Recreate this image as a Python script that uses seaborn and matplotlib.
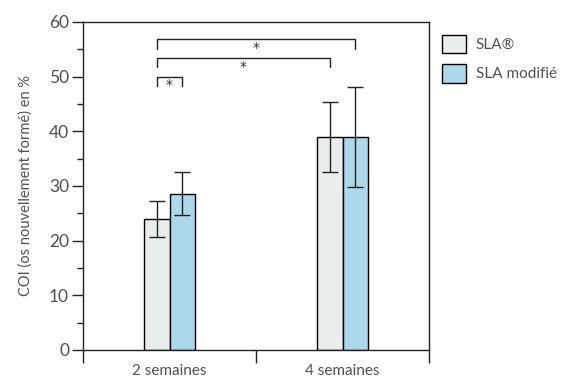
import numpy as np
import pandas as pd
import matplotlib
matplotlib.use("Agg")
import matplotlib.pyplot as plt
import seaborn as sns
from matplotlib.ticker import MultipleLocator, FixedLocator

periods = ["2 semaines", "4 semaines"]
groups = ["SLA®", "SLA modifié"]
sla_mean = [24.0, 39.0]
sla_sd = [3.3, 6.4]
mod_mean = [28.6, 39.0]
mod_sd = [3.9, 9.1]
colors = ["#e8eeee", "#a3dbf4"]

# significance brackets: (period idx a, group a, period idx b, group b, y)
brackets = [(0, 0, 1, 1, 56.8), (0, 0, 1, 0, 53.4), (0, 0, 0, 1, 50.0)]

df = pd.DataFrame({
    "period": periods * 2,
    "group": [groups[0]] * 2 + [groups[1]] * 2,
    "coi": sla_mean + mod_mean,
})

sns.set_style("white")
plt.rcParams["font.family"] = ["Lato", "DejaVu Sans"]
text_color = "#505050"

fig = plt.figure(figsize=(5.63, 3.78), dpi=100)
ax = fig.add_axes([83 / 563, 28 / 378, 346 / 563, 328 / 378])

sns.barplot(data=df, x="period", y="coi", hue="group", order=periods,
            hue_order=groups, palette=colors, width=0.3, errorbar=None,
            edgecolor="black", linewidth=1.0, ax=ax)

sds = [sla_sd, mod_sd]
means = [sla_mean, mod_mean]
bar_conts = list(ax.containers)
for gi, cont in enumerate(bar_conts):
    xs = [p.get_x() + p.get_width() / 2 for p in cont.patches]
    ax.errorbar(xs, means[gi], yerr=sds[gi], fmt="none", ecolor="#222222",
                elinewidth=1.0, capsize=5.5, capthick=1.0, zorder=5)

offs = [-0.075, 0.075]
leg = 1.7
for pa, ga, pb, gb, y in brackets:
    x1 = pa + offs[ga]
    x2 = pb + offs[gb]
    ax.plot([x1, x1, x2, x2], [y - leg, y, y, y - leg], color="#222222",
            lw=1.0, clip_on=False)
    ax.text((x1 + x2) / 2, y - 1.6, "*", ha="center", va="center",
            fontsize=10, color="#333333", family="DejaVu Sans")

ax.set_xlim(-0.5, 1.5)
ax.set_ylim(0, 60)
ax.yaxis.set_major_locator(MultipleLocator(10))
ax.yaxis.set_minor_locator(MultipleLocator(5))
ax.xaxis.set_minor_locator(FixedLocator([-0.5, 0.5, 1.5]))
ax.tick_params(axis="y", which="major", left=True, length=8, width=1,
               color="#222222", labelsize=12.5, labelcolor=text_color, pad=2)
ax.tick_params(axis="y", which="minor", left=True, length=4.5, width=1,
               color="#222222")
ax.tick_params(axis="x", which="major", bottom=True, length=0,
               labelsize=11, labelcolor=text_color, pad=10)
ax.tick_params(axis="x", which="minor", bottom=True, length=9, width=1.0,
               color="#222222")
for s in ax.spines.values():
    s.set_color("#222222")
    s.set_linewidth(1.0)

ax.set_xlabel("")
ax.set_ylabel("COI (os nouvellement formé) en %", fontsize=10.5,
              color=text_color, labelpad=12)

handles, labels = ax.get_legend_handles_labels()
ax.legend(handles, labels, loc="upper left", bbox_to_anchor=(1.02, 0.98),
          frameon=False, fontsize=11, labelcolor=text_color,
          handlelength=1.6, handleheight=1.5, handletextpad=0.6,
          labelspacing=0.7, borderaxespad=0)

fig.savefig("out.png", dpi=100)
